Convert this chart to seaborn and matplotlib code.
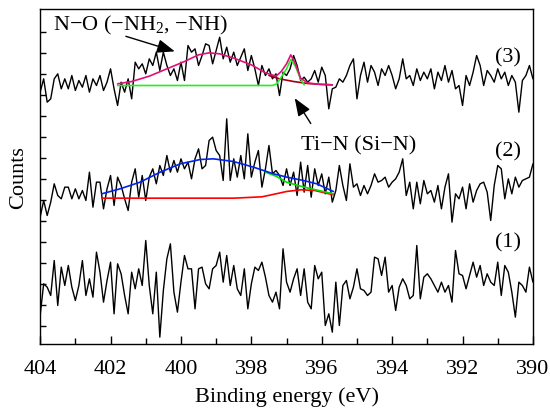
import numpy as np
import pandas as pd
import matplotlib
matplotlib.use("Agg")
import matplotlib.pyplot as plt
import seaborn as sns

# ------------------------------------------------------------
# DATA  (N 1s spectra, counts in arbitrary units)
# ------------------------------------------------------------
energy = np.round(np.arange(404.0, 389.95, -0.1), 1)   # recorded grid, 0.1 eV step

counts_1 = [
    110, 205, 195, 170, 275, 140, 255, 200, 260, 195,
    155, 200, 275, 170, 220, 165, 300, 240, 150, 215,
    270, 115, 265, 235, 170, 115, 240, 190, 250, 200,
    335, 200, 115, 240, 45, 185, 280, 325, 180, 120,
    210, 290, 250, 250, 130, 250, 255, 205, 190, 250,
    260, 300, 210, 290, 200, 260, 190, 170, 250, 130,
    205, 255, 245, 270, 225, 170, 150, 180, 130,
    310, 210, 180, 220, 250, 170, 250, 150, 130, 260,
    220, 240, 80, 115, 60, 210, 80, 200, 215, 160,
    195, 250, 190, 185, 170, 180, 285, 280, 230, 285,
    180, 200, 125, 195, 220, 200, 160, 170, 320, 160,
    225, 235, 220, 200, 180, 210, 180, 200, 150, 305,
    235, 230, 190, 230, 270, 225, 260, 200, 235, 210,
    200, 270, 170, 260, 240, 180, 105, 210, 200, 180,
    255, 210,
]

counts_2 = [
    105, 155, 110, 150, 205, 170, 160, 195, 195, 160,
    190, 160, 185, 155, 240, 135, 210, 210, 130, 190,
    230, 140, 225, 200, 160, 125, 210, 250, 165, 230,
    155, 225, 250, 205, 260, 230, 290, 240, 275, 240,
    280, 250, 270, 220, 280, 310, 250, 260, 335, 345,
    305, 290, 215, 400, 215, 280, 225, 290, 220, 355,
    225, 270, 305, 195, 250, 320, 235, 245, 230,
    200, 250, 200, 240, 170, 270, 180, 260, 165, 250,
    200, 235, 175, 225, 150, 185, 260, 200, 155, 265,
    195, 205, 170, 200, 175, 200, 235, 210, 215, 225,
    195, 210, 220, 240, 280, 170, 210, 130, 210, 145,
    215, 175, 185, 150, 200, 130, 195, 235, 90, 175,
    160, 195, 130, 205, 150, 185, 205, 210, 180, 95,
    200, 260, 250, 160, 220, 175, 225, 195, 215, 220,
    225, 265,
]

counts_3 = [
    120, 160, 90, 100, 160, 175, 130, 160, 130, 170,
    125, 155, 135, 170, 120, 160, 140, 170, 125, 150,
    190, 130, 80, 150, 120, 160, 100, 210, 190, 205,
    175, 220, 200, 240, 185, 240, 200, 170, 190, 155,
    210, 155, 260, 240, 250, 200, 230, 265, 260, 205,
    245, 285, 220, 255, 210, 240, 200, 225, 250, 185,
    230, 190, 140, 200, 170, 190, 160, 175, 110,
    180, 170, 190, 230, 200, 155, 165, 150, 160, 185,
    150, 195, 170, 70, 130, 135, 160, 150, 170, 200,
    220, 100, 170, 210, 150, 200, 180, 140, 190, 170,
    200, 170, 130, 160, 220, 160, 170, 140, 190, 155,
    180, 160, 190, 130, 180, 155, 200, 150, 185, 130,
    140, 80, 170, 140, 180, 230, 200, 140, 185, 170,
    150, 190, 160, 180, 140, 170, 150, 60, 155, 170,
    200, 160,
]

# vertical stacking offsets for spectra (1), (2), (3)
offsets = [0, 300, 660]
labels = ["(1)", "(2)", "(3)"]

# peak fitting results, spectrum (2)
fit2_env_e = [402.25, 401.73, 401.16, 400.59, 400.02, 399.45, 399.08, 398.51, 397.94, 397.37, 396.99, 396.52, 396.14, 395.67]
fit2_env = [175, 190, 210, 240, 265, 278, 280, 272, 255, 235, 225, 215, 205, 182]
fit2_tin_e = [402.25, 398.5, 397.7, 397.3, 397.0, 396.6, 396.2, 395.67]
fit2_tin = [162, 162, 166, 175, 182, 187, 185, 172]
fit2_no_e = [397.6, 397.3, 397.0, 396.5, 395.67]
fit2_no = [240, 228, 210, 195, 175]

# peak fitting results, spectrum (3)
fit3_env_e = [401.8, 401.4, 400.9, 400.4, 399.9, 399.5, 399.2, 398.9, 398.5, 398.0, 397.6, 397.3, 397.15, 397.0, 396.88, 396.75, 396.6, 396.4, 396.1, 395.7]
fit3_env = [145, 152, 168, 190, 212, 232, 238, 235, 222, 202, 178, 168, 182, 205, 232, 205, 162, 148, 144, 142]
fit3_tin_e = [401.8, 397.4, 397.28, 397.15, 397.0, 396.88, 396.75, 396.6, 396.5]
fit3_tin = [140, 140, 145, 165, 190, 218, 198, 160, 142]
fit3_tail_e = [397.5, 397.2, 396.8, 396.4, 396.0, 395.7]
fit3_tail = [170, 160, 152, 146, 143, 142]

# ------------------------------------------------------------
# STYLE
# ------------------------------------------------------------
sns.set_theme(style="ticks")
plt.rcParams["font.family"] = ["Liberation Serif", "DejaVu Serif"]
plt.rcParams["mathtext.fontset"] = "custom"
plt.rcParams["mathtext.rm"] = "Liberation Serif"
plt.rcParams["mathtext.it"] = "Liberation Serif:italic"
plt.rcParams["axes.unicode_minus"] = True
plt.rcParams["text.color"] = "black"
plt.rcParams["axes.labelcolor"] = "black"
plt.rcParams["xtick.color"] = "black"
plt.rcParams["ytick.color"] = "black"

FS = 16

fig = plt.figure(figsize=(5.5, 4.1), dpi=100)
ax = fig.add_axes([0.073, 0.159, 0.896, 0.817])

# ------------------------------------------------------------
# SPECTRA
# ------------------------------------------------------------
for counts, off in zip([counts_1, counts_2, counts_3], offsets):
    df = pd.DataFrame({"energy": energy, "counts": np.array(counts) + off})
    sns.lineplot(data=df, x="energy", y="counts", ax=ax, color="black",
                 linewidth=1.0, estimator=None, sort=False)


def fit_line(e, v, off, color):
    d = pd.DataFrame({"energy": e, "counts": np.array(v) + off})
    sns.lineplot(data=d, x="energy", y="counts", ax=ax, color=color,
                 linewidth=1.2, estimator=None, sort=False, zorder=3)


fit_line(fit2_tin_e, fit2_tin, offsets[1], "#ff0000")
fit_line(fit2_no_e, fit2_no, offsets[1], "#00dd00")
fit_line(fit2_env_e, fit2_env, offsets[1], "#0022ee")

fit_line(fit3_tail_e, fit3_tail, offsets[2], "#a00010")
fit_line(fit3_tin_e, fit3_tin, offsets[2], "#22ee22")
fit_line(fit3_env_e, fit3_env, offsets[2], "#e0107a")

# ------------------------------------------------------------
# LABELS & ANNOTATIONS
# ------------------------------------------------------------
for lab, y in zip(labels, [331, 604, 886]):
    ax.text(390.72, y, lab, fontsize=FS, ha="center", va="center", color="black")

ax.text(403.63, 982, "N\u2212O (\u2212NH$_2$, \u2212NH)", fontsize=FS,
        ha="left", va="center", color="black")
ax.annotate("", xy=(400.1, 900), xytext=(401.64, 950),
            arrowprops=dict(arrowstyle="-|>,head_length=0.9,head_width=0.35",
                            color="black", lw=1.0))

ax.text(394.94, 622, "Ti\u2212N (Si\u2212N)", fontsize=FS,
        ha="center", va="center", color="black")
ax.annotate("", xy=(396.81, 769), xytext=(396.27, 679),
            arrowprops=dict(arrowstyle="-|>,head_length=0.9,head_width=0.35",
                            color="black", lw=1.0))

ax.set_xlim(404, 390)
ax.set_ylim(25, 1030)
ax.set_xticks([404, 402, 400, 398, 396, 394, 392, 390])
ax.set_xticks(np.arange(403, 390, -2), minor=True)
ax.set_yticks(np.arange(79, 1000, 63))
ax.set_yticklabels([])
ax.tick_params(axis="x", which="major", direction="in", length=6, width=1,
               labelsize=FS, colors="black", pad=11)
ax.tick_params(axis="x", which="minor", direction="in", length=4, width=1)
ax.tick_params(axis="y", direction="in", length=4, width=1)
ax.set_xlabel("Binding energy (eV)", fontsize=FS, labelpad=6, color="black")
ax.set_ylabel("Counts", fontsize=FS, labelpad=5, color="black")
for s in ax.spines.values():
    s.set_visible(True)
    s.set_color("black")
    s.set_linewidth(1.0)

fig.savefig("out.png", dpi=100)
